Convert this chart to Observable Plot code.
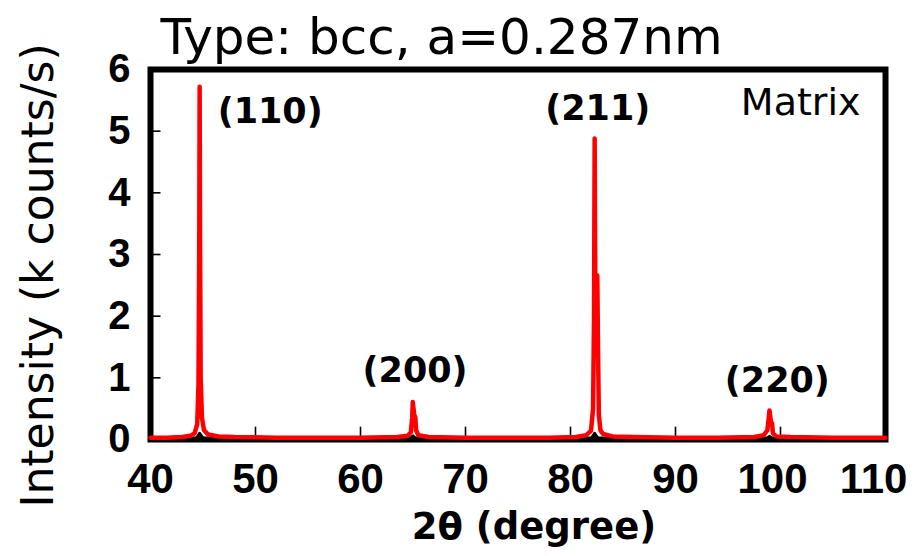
<!DOCTYPE html>
<html><head><meta charset="utf-8">
<script src="https://cdn.jsdelivr.net/npm/d3@7"></script>
<script src="https://cdn.jsdelivr.net/npm/@observablehq/plot@0.6"></script>
<style>body{margin:0;background:#fff}</style>
</head><body><div id="chart"></div>
<script>
// ---- data ----
const xTicks = [40, 50, 60, 70, 80, 90, 100, 110];
const yTicks = [0, 1, 2, 3, 4, 5, 6];
const innerXTicks = [50, 60, 70, 80, 90, 100];
const innerYTicks = [1, 2, 3, 4, 5];

// red pattern (Matrix) : 2θ (deg) and intensity (k counts/s)
const redTheta = [40.0, 41.5, 43.0, 43.8, 44.2, 44.45, 44.57, 44.64, 44.68, 44.72, 44.78, 44.9, 45.1, 45.5, 46.5, 48, 52, 56, 60,
  63.5, 64.5, 64.8, 64.92, 64.98, 65.05, 65.12, 65.22, 65.3, 65.5, 66.5, 70, 74, 78,
  80.5, 81.5, 81.95, 82.15, 82.24, 82.3, 82.36, 82.45, 82.55, 82.62, 82.7, 82.85, 83.1, 84, 86, 90, 94,
  97.5, 98.4, 98.75, 98.88, 98.95, 99.02, 99.1, 99.2, 99.28, 99.6, 101, 105, 110];
const redIntensity = [0.03, 0.03, 0.04, 0.06, 0.10, 0.25, 0.9, 3.0, 5.72, 3.2, 1.0, 0.35, 0.15, 0.08, 0.05, 0.04, 0.03, 0.03, 0.03,
  0.04, 0.06, 0.12, 0.35, 0.61, 0.5, 0.40, 0.36, 0.15, 0.07, 0.04, 0.03, 0.03, 0.03,
  0.04, 0.07, 0.14, 0.5, 2.0, 4.88, 2.6, 2.35, 2.66, 1.5, 0.4, 0.15, 0.09, 0.05, 0.04, 0.03, 0.03,
  0.04, 0.07, 0.15, 0.35, 0.47, 0.38, 0.28, 0.26, 0.1, 0.05, 0.04, 0.03, 0.03];

// black pattern (near the baseline)
const blackTheta = [40, 44.3, 44.68, 45.1, 64.7, 65.0, 65.3, 81.9, 82.3, 82.7, 98.6, 98.95, 99.3, 110];
const blackIntensity = [0.0, 0.0, 0.1, 0.0, 0.0, 0.06, 0.0, 0.0, 0.1, 0.0, 0.0, 0.05, 0.0, 0.0];

// annotations
const peakLabels = ["(110)", "(200)", "(211)", "(220)"];
const peakLabelTheta = [51.4, 65.2, 82.6, 99.7];
const peakLabelIntensity = [5.31, 1.12, 5.37, 0.96];
const titleText = "Type: bcc, a=0.287nm";
const sampleName = "Matrix";
const xLabel = "2θ (degree)";
const yLabel = "Intensity (k counts/s)";

// ---- build ----
const red = redTheta.map((t, i) => ({t, v: redIntensity[i]}));
const black = blackTheta.map((t, i) => ({t, v: blackIntensity[i]}));
const labels = peakLabels.map((s, i) => ({s, t: peakLabelTheta[i], v: peakLabelIntensity[i]}));

const tickFont = "'Liberation Sans', Arial, sans-serif";
const textFont = "'DejaVu Sans', sans-serif";
const tickStyle = {tickSize: 0, fontSize: 42, fontWeight: "bold", fontFamily: tickFont, fill: "black", label: null, tickFormat: d => String(d)};

const chart = Plot.plot({
  width: 915,
  height: 556,
  marginLeft: 150,
  marginRight: 30,
  marginTop: 69,
  marginBottom: 117,
  style: {background: "white", color: "black", overflow: "visible"},
  x: {domain: [40, 110]},
  y: {domain: [0, 6]},
  marks: [
    Plot.frame({stroke: "black", strokeWidth: 6}),
    Plot.ruleX(innerXTicks, {x: d => d, y1: 0, y2: 0.2, stroke: "black", strokeWidth: 1.6}),
    Plot.ruleY(innerYTicks, {y: d => d, x1: 40, x2: 41, stroke: "black", strokeWidth: 1.6}),
    Plot.line(black, {x: "t", y: "v", stroke: "black", strokeWidth: 3}),
    Plot.line(red, {x: "t", y: "v", stroke: "#ff0000", strokeWidth: 4.5, strokeLinejoin: "round"}),
    Plot.axisX(xTicks.filter(d => d < 100), {...tickStyle, tickPadding: 24}),
    Plot.axisX([100], {...tickStyle, tickPadding: 24, dx: -8}),
    Plot.axisX([110], {...tickStyle, tickPadding: 24, dx: -12}),
    Plot.axisY(yTicks, {...tickStyle, fontSize: 40, tickPadding: 20}),
    Plot.text(labels, {x: "t", y: "v", text: "s", fontSize: 35, fontWeight: "bold", fontFamily: textFont, fill: "black"}),
    Plot.text([sampleName], {frameAnchor: "top-right", dx: -25, dy: 33, textAnchor: "end", lineAnchor: "middle", fontSize: 38, letterSpacing: 2.5, fontFamily: textFont, fill: "black"}),
    Plot.text([titleText], {frameAnchor: "top-left", dx: 10, dy: -32, textAnchor: "start", lineAnchor: "middle", fontSize: 50, fontFamily: textFont, fill: "black"}),
    Plot.text([xLabel], {frameAnchor: "bottom", dx: 16, dy: 88, textAnchor: "middle", lineAnchor: "middle", fontSize: 37, fontWeight: "bold", fontFamily: textFont, fill: "black"}),
    Plot.text([yLabel], {frameAnchor: "left", dx: -112, dy: 21, rotate: -90, textAnchor: "middle", lineAnchor: "middle", fontSize: 44, fontFamily: textFont, fill: "black"})
  ]
});
document.getElementById("chart").appendChild(chart);
</script>
</body></html>
